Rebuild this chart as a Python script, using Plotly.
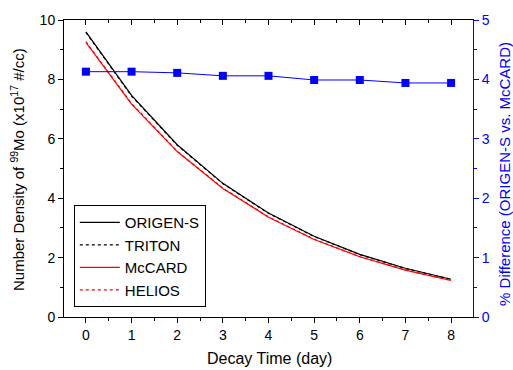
import plotly.graph_objects as go

days = [0, 1, 2, 3, 4, 5, 6, 7, 8]
origen_s = [9.60, 7.46, 5.80, 4.50, 3.50, 2.72, 2.11, 1.64, 1.27]
triton = [9.58, 7.44, 5.78, 4.49, 3.49, 2.71, 2.10, 1.63, 1.27]
mccard = [9.25, 7.17, 5.57, 4.33, 3.36, 2.61, 2.03, 1.58, 1.23]
helios = [9.27, 7.19, 5.58, 4.34, 3.37, 2.62, 2.03, 1.58, 1.23]
pct_diff = [4.13, 4.13, 4.11, 4.06, 4.06, 3.99, 3.99, 3.94, 3.94]

FONT = "Liberation Sans, Arial, sans-serif"
BLUE = "#0000ff"

L, R, T, B = 64, 40, 16, 53
W, H = 513, 370
PW, PH = W - L - R, H - T - B

fig = go.Figure()
fig.add_trace(go.Scatter(x=days, y=origen_s, name="ORIGEN-S", mode="lines",
                         line=dict(color="black", width=1.2)))
fig.add_trace(go.Scatter(x=days, y=triton, name="TRITON", mode="lines",
                         line=dict(color="black", width=1.2, dash="3px,3px")))
fig.add_trace(go.Scatter(x=days, y=mccard, name="McCARD", mode="lines",
                         line=dict(color="red", width=1.2)))
fig.add_trace(go.Scatter(x=days, y=helios, name="HELIOS", mode="lines",
                         line=dict(color="red", width=1.2, dash="3px,3px")))
fig.add_trace(go.Scatter(x=days, y=pct_diff, name="% diff", mode="lines+markers",
                         yaxis="y2", showlegend=False,
                         line=dict(color=BLUE, width=1),
                         marker=dict(symbol="square", size=8, color=BLUE)))
# invisible trace to anchor the top mirror axis
fig.add_trace(go.Scatter(x=days, y=origen_s, xaxis="x2", yaxis="y", mode="lines",
                         line=dict(width=0), opacity=0, showlegend=False, hoverinfo="skip"))

minor_x = [x + 0.5 for x in range(-1, 9)]

fig.update_layout(
    width=W, height=H,
    margin=dict(l=L, r=R, t=T, b=B),
    paper_bgcolor="white", plot_bgcolor="white",
    font=dict(family=FONT, size=14, color="black"),
    xaxis=dict(range=[-0.48, 8.48], tickvals=days, ticks="outside", ticklen=5,
               tickwidth=1, tickcolor="black", showline=True, linecolor="black",
               linewidth=1, showgrid=False, zeroline=False,
               minor=dict(tickvals=minor_x, ticks="outside", ticklen=3, tickcolor="black")),
    xaxis2=dict(range=[-0.48, 8.48], overlaying="x", side="top", anchor="y",
                tickvals=days, ticks="inside", ticklen=5, tickcolor="black",
                showticklabels=False, showline=True, linecolor="black", linewidth=1,
                showgrid=False, zeroline=False,
                minor=dict(tickvals=minor_x, ticks="inside", ticklen=3, tickcolor="black")),
    yaxis=dict(range=[0, 10], tickvals=[0, 2, 4, 6, 8, 10], ticks="outside", ticklen=5,
               tickcolor="black", showline=True, linecolor="black", linewidth=1,
               showgrid=False, zeroline=False,
               minor=dict(tickvals=[1, 3, 5, 7, 9], ticks="outside", ticklen=3,
                          tickcolor="black")),
    yaxis2=dict(range=[0, 5], overlaying="y", side="right", anchor="x",
                tickvals=[0, 1, 2, 3, 4, 5], ticks="outside", ticklen=5,
                tickcolor=BLUE, tickfont=dict(color=BLUE), showline=True,
                linecolor=BLUE, linewidth=1, showgrid=False, zeroline=False,
                minor=dict(tickvals=[0.5, 1.5, 2.5, 3.5, 4.5], ticks="outside",
                           ticklen=3, tickcolor=BLUE)),
    legend=dict(x=0.024, y=0.033, xanchor="left", yanchor="bottom",
                bgcolor="white", bordercolor="black", borderwidth=1,
                font=dict(size=15), tracegroupgap=0, itemwidth=40, entrywidth=92),
    showlegend=True,
    annotations=[
        dict(text="Decay Time (day)", xref="paper", yref="paper",
             x=(269 - L) / PW, y=-(359 - (T + PH)) / PH, xanchor="center", yanchor="middle",
             showarrow=False, font=dict(size=16)),
        dict(text="Number Density of <sup>99</sup>Mo (x10<sup>17</sup> #/cc)",
             xref="paper", yref="paper", x=(18 - L) / PW, y=(T + PH - 168) / PH,
             xanchor="center", yanchor="middle", textangle=-90,
             showarrow=False, font=dict(size=15)),
        dict(text="% Difference (ORIGEN-S vs. McCARD)",
             xref="paper", yref="paper", x=(505 - L) / PW, y=(T + PH - 172) / PH,
             xanchor="center", yanchor="middle", textangle=-90,
             showarrow=False, font=dict(size=15, color=BLUE)),
    ],
)

fig.write_html("out.html", config={"displayModeBar": False},
               post_script="document.body.style.margin='0';document.body.style.padding='0';")
